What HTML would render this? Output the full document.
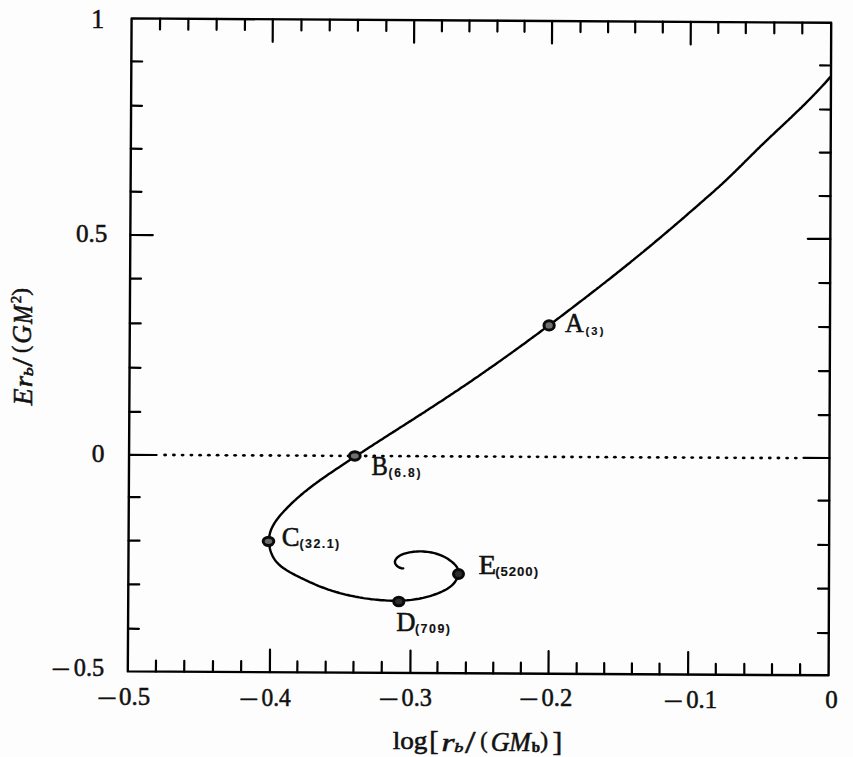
<!DOCTYPE html>
<html><head><meta charset="utf-8"><title>Binding energy plot</title>
<style>html,body{margin:0;padding:0;background:#fdfdfd;overflow:hidden;}svg{display:block;}</style>
</head><body>
<svg width="853" height="757" viewBox="0 0 853 757">
<rect width="853" height="757" fill="#fdfdfd"/>
<polygon points="131.6,18.4 831.2,22.8 828.6,675.3 127.8,671.4" fill="none" stroke="#000" stroke-width="2.40" stroke-linejoin="round"/>
<path d="M160.1,18.6L160.0,29.5 M188.4,18.8L188.3,29.7 M216.7,18.9L216.6,29.8 M245.0,19.1L244.9,30.0 M272.8,19.3L272.7,41.8 M301.5,19.5L301.4,30.4 M329.8,19.6L329.7,30.5 M358.0,19.8L357.9,30.7 M386.4,20.0L386.3,30.9 M414.2,20.2L414.1,42.7 M442.0,20.4L441.9,31.3 M469.5,20.5L469.4,31.4 M497.5,20.7L497.4,31.6 M524.6,20.9L524.5,31.8 M552.1,21.0L552.0,43.5 M580.6,21.2L580.5,32.1 M608.1,21.4L608.1,32.3 M635.2,21.6L635.2,32.5 M662.8,21.7L662.8,32.6 M690.8,21.9L690.7,44.4 M718.3,22.1L718.3,33.0 M745.8,22.3L745.8,33.2 M774.3,22.4L774.3,33.3 M802.3,22.6L802.3,33.5 M155.9,671.6L156.0,660.7 M184.2,671.7L184.3,660.8 M212.9,671.9L213.0,661.0 M241.1,672.0L241.2,661.1 M269.9,672.2L270.0,649.7 M297.3,672.3L297.4,661.4 M325.6,672.5L325.7,661.6 M353.4,672.7L353.5,661.8 M381.7,672.8L381.8,661.9 M410.4,673.0L410.5,650.5 M437.4,673.1L437.5,662.2 M465.8,673.3L465.9,662.4 M493.2,673.4L493.3,662.5 M520.8,673.6L520.9,662.7 M548.5,673.7L548.6,651.2 M576.6,673.9L576.7,663.0 M604.2,674.1L604.2,663.2 M631.9,674.2L631.9,663.3 M659.5,674.4L659.5,663.5 M688.1,674.5L688.2,652.0 M715.8,674.7L715.8,663.8 M744.3,674.8L744.3,663.9 M772.0,675.0L772.0,664.1 M800.1,675.1L800.1,664.2 M131.3,61.4L142.2,61.5 M131.1,105.7L142.0,105.8 M130.8,148.7L141.7,148.8 M130.6,191.7L141.5,191.8 M130.3,235.0L152.8,235.1 M130.1,278.6L141.0,278.7 M129.8,323.3L140.7,323.4 M129.6,367.7L140.5,367.8 M129.3,411.8L140.2,411.9 M129.1,454.8L156.6,455.0 M128.8,497.1L139.7,497.2 M128.6,540.6L139.5,540.7 M128.3,584.3L139.2,584.4 M128.0,628.7L138.9,628.8 M831.0,65.5L820.1,65.4 M830.9,109.6L820.0,109.5 M830.7,152.7L819.8,152.6 M830.5,196.1L819.6,196.0 M830.3,238.9L807.8,238.8 M830.2,283.1L819.3,283.0 M830.0,327.1L819.1,327.0 M829.8,371.2L818.9,371.1 M829.6,415.2L818.7,415.1 M829.5,458.0L803.5,457.8 M829.3,500.7L818.4,500.6 M829.1,545.0L818.2,544.9 M828.9,588.7L818.0,588.6 M828.8,633.1L817.9,633.0" stroke="#000" stroke-width="2.20" fill="none" stroke-linecap="round"/>
<g fill="#000"><ellipse cx="165.1" cy="455.0" rx="1.95" ry="1.4"/><ellipse cx="173.9" cy="455.0" rx="1.95" ry="1.4"/><ellipse cx="182.6" cy="455.1" rx="1.95" ry="1.4"/><ellipse cx="191.4" cy="455.1" rx="1.95" ry="1.4"/><ellipse cx="200.1" cy="455.2" rx="1.95" ry="1.4"/><ellipse cx="208.9" cy="455.2" rx="1.95" ry="1.4"/><ellipse cx="217.6" cy="455.2" rx="1.95" ry="1.4"/><ellipse cx="226.4" cy="455.3" rx="1.95" ry="1.4"/><ellipse cx="235.1" cy="455.3" rx="1.95" ry="1.4"/><ellipse cx="243.9" cy="455.4" rx="1.95" ry="1.4"/><ellipse cx="252.7" cy="455.4" rx="1.95" ry="1.4"/><ellipse cx="261.5" cy="455.5" rx="1.95" ry="1.4"/><ellipse cx="270.4" cy="455.5" rx="1.95" ry="1.4"/><ellipse cx="279.2" cy="455.6" rx="1.95" ry="1.4"/><ellipse cx="288.0" cy="455.6" rx="1.95" ry="1.4"/><ellipse cx="296.8" cy="455.6" rx="1.95" ry="1.4"/><ellipse cx="305.4" cy="455.7" rx="1.95" ry="1.4"/><ellipse cx="314.1" cy="455.7" rx="1.95" ry="1.4"/><ellipse cx="322.7" cy="455.8" rx="1.95" ry="1.4"/><ellipse cx="331.4" cy="455.8" rx="1.95" ry="1.4"/><ellipse cx="340.0" cy="455.9" rx="1.95" ry="1.4"/><ellipse cx="348.6" cy="455.9" rx="1.95" ry="1.4"/><ellipse cx="357.1" cy="455.9" rx="1.95" ry="1.4"/><ellipse cx="365.7" cy="456.0" rx="1.95" ry="1.4"/><ellipse cx="374.3" cy="456.0" rx="1.95" ry="1.4"/><ellipse cx="382.9" cy="456.1" rx="1.95" ry="1.4"/><ellipse cx="391.4" cy="456.1" rx="1.95" ry="1.4"/><ellipse cx="400.0" cy="456.2" rx="1.95" ry="1.4"/><ellipse cx="408.6" cy="456.2" rx="1.95" ry="1.4"/><ellipse cx="417.1" cy="456.2" rx="1.95" ry="1.4"/><ellipse cx="425.7" cy="456.3" rx="1.95" ry="1.4"/><ellipse cx="434.3" cy="456.3" rx="1.95" ry="1.4"/><ellipse cx="442.9" cy="456.4" rx="1.95" ry="1.4"/><ellipse cx="451.6" cy="456.4" rx="1.95" ry="1.4"/><ellipse cx="460.2" cy="456.5" rx="1.95" ry="1.4"/><ellipse cx="468.8" cy="456.5" rx="1.95" ry="1.4"/><ellipse cx="477.4" cy="456.5" rx="1.95" ry="1.4"/><ellipse cx="486.1" cy="456.6" rx="1.95" ry="1.4"/><ellipse cx="494.7" cy="456.6" rx="1.95" ry="1.4"/><ellipse cx="503.3" cy="456.7" rx="1.95" ry="1.4"/><ellipse cx="511.9" cy="456.7" rx="1.95" ry="1.4"/><ellipse cx="520.5" cy="456.8" rx="1.95" ry="1.4"/><ellipse cx="529.1" cy="456.8" rx="1.95" ry="1.4"/><ellipse cx="537.6" cy="456.8" rx="1.95" ry="1.4"/><ellipse cx="546.2" cy="456.9" rx="1.95" ry="1.4"/><ellipse cx="554.8" cy="456.9" rx="1.95" ry="1.4"/><ellipse cx="563.4" cy="457.0" rx="1.95" ry="1.4"/><ellipse cx="572.0" cy="457.0" rx="1.95" ry="1.4"/><ellipse cx="580.6" cy="457.1" rx="1.95" ry="1.4"/><ellipse cx="589.2" cy="457.1" rx="1.95" ry="1.4"/><ellipse cx="597.7" cy="457.1" rx="1.95" ry="1.4"/><ellipse cx="606.3" cy="457.2" rx="1.95" ry="1.4"/><ellipse cx="614.9" cy="457.2" rx="1.95" ry="1.4"/><ellipse cx="623.5" cy="457.3" rx="1.95" ry="1.4"/><ellipse cx="632.1" cy="457.3" rx="1.95" ry="1.4"/><ellipse cx="640.7" cy="457.4" rx="1.95" ry="1.4"/><ellipse cx="649.3" cy="457.4" rx="1.95" ry="1.4"/><ellipse cx="657.8" cy="457.4" rx="1.95" ry="1.4"/><ellipse cx="666.4" cy="457.5" rx="1.95" ry="1.4"/><ellipse cx="675.0" cy="457.5" rx="1.95" ry="1.4"/><ellipse cx="683.6" cy="457.6" rx="1.95" ry="1.4"/><ellipse cx="692.2" cy="457.6" rx="1.95" ry="1.4"/><ellipse cx="700.8" cy="457.7" rx="1.95" ry="1.4"/><ellipse cx="709.4" cy="457.7" rx="1.95" ry="1.4"/><ellipse cx="717.9" cy="457.7" rx="1.95" ry="1.4"/><ellipse cx="726.5" cy="457.8" rx="1.95" ry="1.4"/><ellipse cx="735.1" cy="457.8" rx="1.95" ry="1.4"/><ellipse cx="743.7" cy="457.9" rx="1.95" ry="1.4"/><ellipse cx="752.4" cy="457.9" rx="1.95" ry="1.4"/><ellipse cx="761.1" cy="458.0" rx="1.95" ry="1.4"/><ellipse cx="769.8" cy="458.0" rx="1.95" ry="1.4"/><ellipse cx="778.4" cy="458.0" rx="1.95" ry="1.4"/><ellipse cx="787.1" cy="458.1" rx="1.95" ry="1.4"/><ellipse cx="795.8" cy="458.1" rx="1.95" ry="1.4"/></g>
<path d="M830.2,77.0 L828.9,78.6 L827.6,80.1 L826.3,81.6 L825.0,83.1 L823.6,84.6 L822.3,86.0 L820.9,87.5 L819.5,89.0 L818.2,90.4 L816.8,91.9 L815.4,93.3 L814.0,94.8 L812.6,96.2 L811.2,97.7 L809.8,99.1 L808.4,100.5 L807.0,101.9 L805.6,103.3 L804.1,104.8 L802.7,106.2 L801.3,107.6 L799.8,109.0 L798.4,110.4 L797.0,111.7 L795.5,113.1 L794.1,114.5 L792.6,115.9 L791.2,117.3 L789.7,118.7 L788.3,120.1 L786.8,121.4 L785.3,122.8 L783.9,124.2 L782.4,125.6 L781.0,126.9 L779.5,128.3 L778.0,129.7 L776.6,131.0 L775.1,132.4 L773.7,133.8 L772.2,135.2 L770.7,136.5 L769.3,137.9 L767.8,139.3 L766.4,140.7 L764.9,142.1 L763.5,143.5 L762.0,144.9 L760.6,146.2 L759.2,147.6 L757.7,149.0 L756.3,150.4 L754.9,151.8 L753.4,153.3 L752.0,154.7 L750.6,156.1 L749.2,157.5 L747.8,158.9 L746.3,160.3 L744.9,161.7 L743.5,163.2 L742.1,164.6 L740.7,166.0 L739.2,167.4 L737.8,168.8 L736.4,170.2 L735.0,171.6 L733.5,173.0 L732.1,174.4 L730.6,175.8 L729.2,177.2 L727.7,178.6 L726.3,180.0 L724.8,181.3 L723.4,182.7 L721.9,184.1 L720.4,185.4 L718.9,186.8 L717.4,188.1 L715.9,189.4 L714.4,190.8 L713.0,192.1 L711.5,193.4 L710.0,194.8 L708.4,196.1 L706.9,197.4 L705.4,198.7 L703.9,200.1 L702.4,201.4 L700.9,202.7 L699.4,204.0 L697.9,205.3 L696.4,206.7 L694.9,208.0 L693.3,209.3 L691.8,210.6 L690.3,211.9 L688.8,213.2 L687.3,214.5 L685.8,215.8 L684.3,217.2 L682.7,218.5 L681.2,219.8 L679.7,221.1 L678.2,222.4 L676.7,223.7 L675.1,225.0 L673.6,226.3 L672.1,227.6 L670.6,228.9 L669.0,230.2 L667.5,231.5 L666.0,232.8 L664.4,234.1 L662.9,235.4 L661.4,236.7 L659.8,238.0 L658.3,239.3 L656.8,240.5 L655.2,241.8 L653.7,243.1 L652.2,244.4 L650.6,245.7 L649.1,247.0 L647.5,248.2 L646.0,249.5 L644.4,250.8 L642.9,252.1 L641.3,253.3 L639.8,254.6 L638.2,255.9 L636.7,257.1 L635.1,258.4 L633.6,259.7 L632.0,260.9 L630.5,262.2 L628.9,263.5 L627.3,264.7 L625.8,266.0 L624.2,267.2 L622.6,268.5 L621.1,269.7 L619.5,271.0 L617.9,272.2 L616.4,273.5 L614.8,274.7 L613.2,276.0 L611.7,277.2 L610.1,278.5 L608.5,279.7 L606.9,280.9 L605.4,282.2 L603.8,283.4 L602.2,284.6 L600.6,285.9 L599.1,287.1 L597.5,288.3 L595.9,289.6 L594.3,290.8 L592.7,292.0 L591.1,293.3 L589.5,294.5 L588.0,295.7 L586.4,296.9 L584.8,298.2 L583.2,299.4 L581.6,300.6 L580.0,301.8 L578.4,303.0 L576.8,304.3 L575.2,305.5 L573.6,306.7 L572.1,307.9 L570.5,309.1 L568.9,310.3 L567.3,311.5 L565.7,312.8 L564.1,314.0 L562.5,315.2 L560.9,316.4 L559.3,317.6 L557.7,318.8 L556.1,320.0 L554.5,321.2 L552.9,322.4 L551.3,323.6 L549.6,324.8 L548.0,326.0 L546.4,327.2 L544.8,328.4 L543.2,329.6 L541.6,330.8 L540.0,332.0 L538.4,333.2 L536.8,334.4 L535.2,335.6 L533.5,336.8 L531.9,337.9 L530.3,339.1 L528.7,340.3 L527.1,341.5 L525.5,342.7 L523.8,343.9 L522.2,345.0 L520.6,346.2 L519.0,347.4 L517.4,348.6 L515.7,349.8 L514.1,350.9 L512.5,352.1 L510.9,353.3 L509.2,354.4 L507.6,355.6 L506.0,356.8 L504.3,357.9 L502.7,359.1 L501.1,360.3 L499.4,361.4 L497.8,362.6 L496.2,363.7 L494.5,364.9 L492.9,366.0 L491.2,367.2 L489.6,368.3 L488.0,369.5 L486.3,370.6 L484.7,371.8 L483.0,372.9 L481.4,374.1 L479.7,375.2 L478.1,376.4 L476.4,377.5 L474.8,378.6 L473.1,379.8 L471.5,380.9 L469.8,382.0 L468.1,383.2 L466.5,384.3 L464.8,385.4 L463.2,386.5 L461.5,387.6 L459.8,388.8 L458.2,389.9 L456.5,391.0 L454.8,392.1 L453.2,393.2 L451.5,394.3 L449.8,395.4 L448.2,396.5 L446.5,397.6 L444.8,398.7 L443.1,399.9 L441.5,401.0 L439.8,402.0 L438.1,403.1 L436.4,404.2 L434.8,405.3 L433.1,406.4 L431.4,407.5 L429.7,408.6 L428.0,409.7 L426.3,410.8 L424.7,411.9 L423.0,413.0 L421.3,414.1 L419.6,415.1 L417.9,416.2 L416.2,417.3 L414.5,418.4 L412.9,419.5 L411.2,420.6 L409.5,421.6 L407.8,422.7 L406.1,423.8 L404.4,424.9 L402.7,426.0 L401.0,427.0 L399.4,428.1 L397.7,429.2 L396.0,430.3 L394.3,431.4 L392.6,432.4 L390.9,433.5 L389.2,434.6 L387.5,435.7 L385.8,436.8 L384.2,437.8 L382.5,438.9 L380.8,440.0 L379.1,441.1 L377.4,442.2 L375.7,443.3 L374.0,444.3 L372.4,445.4 L370.7,446.5 L369.0,447.6 L367.3,448.7 L365.6,449.8 L363.9,450.9 L362.3,452.0 L360.6,453.1 L358.9,454.2 L357.2,455.2 L355.5,456.3 L353.9,457.4 L352.2,458.5 L350.5,459.6 L348.8,460.7 L347.2,461.8 L345.5,462.9 L343.8,464.1 L342.1,465.2 L340.5,466.3 L338.8,467.4 L337.1,468.5 L335.5,469.6 L333.8,470.7 L332.1,471.9 L330.5,473.0 L328.8,474.1 L327.2,475.2 L325.5,476.4 L323.9,477.5 L322.2,478.7 L320.6,479.8 L319.0,481.0 L317.3,482.2 L315.7,483.4 L314.1,484.5 L312.5,485.8 L310.9,487.0 L309.3,488.2 L307.8,489.4 L306.2,490.7 L304.6,491.9 L303.1,493.2 L301.5,494.5 L300.0,495.8 L298.5,497.1 L297.0,498.4 L295.5,499.8 L294.0,501.1 L292.6,502.5 L291.1,503.9 L289.7,505.3 L288.3,506.7 L286.9,508.1 L285.5,509.6 L284.1,511.0 L282.8,512.5 L281.4,514.0 L280.1,515.6 L278.9,517.1 L277.6,518.7 L276.4,520.3 L275.3,521.9 L274.2,523.6 L273.2,525.4 L272.3,527.1 L271.4,529.0 L270.7,530.8 L270.1,532.7 L269.6,534.7 L269.3,536.7 L269.1,538.7 L269.0,540.7 L269.0,542.7 L269.2,544.7 L269.5,546.6 L269.9,548.6 L270.4,550.5 L271.0,552.4 L271.8,554.3 L272.6,556.1 L273.6,557.9 L274.7,559.6 L275.9,561.2 L277.2,562.7 L278.6,564.1 L280.1,565.5 L281.6,566.8 L283.2,568.0 L284.9,569.1 L286.6,570.2 L288.3,571.2 L290.0,572.2 L291.8,573.2 L293.5,574.1 L295.3,575.1 L297.1,576.0 L298.9,576.9 L300.7,577.8 L302.5,578.6 L304.3,579.5 L306.1,580.4 L307.9,581.2 L309.7,582.1 L311.6,582.9 L313.4,583.7 L315.2,584.5 L317.1,585.3 L318.9,586.1 L320.8,586.8 L322.7,587.5 L324.5,588.2 L326.4,588.9 L328.3,589.6 L330.2,590.2 L332.1,590.8 L334.0,591.4 L336.0,592.0 L337.9,592.5 L339.8,593.1 L341.8,593.6 L343.7,594.1 L345.6,594.6 L347.6,595.0 L349.6,595.5 L351.5,595.9 L353.5,596.3 L355.4,596.7 L357.4,597.0 L359.4,597.4 L361.4,597.7 L363.3,598.1 L365.3,598.4 L367.3,598.6 L369.3,598.9 L371.3,599.2 L373.3,599.4 L375.3,599.6 L377.3,599.8 L379.3,600.0 L381.3,600.2 L383.3,600.3 L385.3,600.4 L387.3,600.6 L389.3,600.6 L391.3,600.7 L393.3,600.7 L395.3,600.8 L397.3,600.8 L399.3,600.7 L401.3,600.7 L403.3,600.6 L405.3,600.4 L407.3,600.3 L409.3,600.1 L411.3,599.9 L413.3,599.6 L415.2,599.3 L417.2,599.0 L419.2,598.7 L421.2,598.3 L423.1,597.9 L425.1,597.4 L427.0,596.9 L428.9,596.4 L430.9,595.8 L432.8,595.2 L434.7,594.5 L436.6,593.8 L438.4,593.1 L440.3,592.3 L442.1,591.5 L443.9,590.6 L445.7,589.7 L447.4,588.7 L449.1,587.6 L450.7,586.4 L452.2,585.1 L453.6,583.6 L454.9,582.1 L456.0,580.4 L456.9,578.6 L457.7,576.8 L458.2,574.8 L458.4,572.9 L458.3,570.9 L457.8,568.9 L456.9,567.1 L455.7,565.5 L454.3,564.0 L452.9,562.7 L451.3,561.4 L449.7,560.2 L448.1,559.0 L446.4,558.0 L444.6,557.0 L442.8,556.2 L441.0,555.4 L439.1,554.6 L437.2,554.0 L435.3,553.4 L433.3,552.9 L431.4,552.5 L429.4,552.1 L427.4,551.9 L425.4,551.7 L423.4,551.5 L421.4,551.4 L419.4,551.4 L417.4,551.5 L415.4,551.6 L413.4,551.8 L411.4,552.1 L409.4,552.4 L407.5,552.8 L405.5,553.3 L403.6,553.9 L401.8,554.6 L400.0,555.5 L398.3,556.7 L396.8,558.0 L395.6,559.6 L394.9,561.5 L395.1,563.4 L396.2,565.1 L397.6,566.5 L399.3,567.5 L401.2,568.2 L403.2,568.4" stroke="#000" stroke-width="2.40" fill="none" stroke-linecap="round" stroke-linejoin="round"/>
<ellipse cx="549.1" cy="325.4" rx="5.15" ry="4.70" fill="#6e6e6e" stroke="#0a0a0a" stroke-width="3"/>
<ellipse cx="354.8" cy="455.9" rx="5.40" ry="4.25" fill="#707070" stroke="#0a0a0a" stroke-width="3"/>
<ellipse cx="268.5" cy="541.3" rx="5.30" ry="4.10" fill="#6a6a6a" stroke="#0a0a0a" stroke-width="3"/>
<ellipse cx="398.8" cy="601.5" rx="5.10" ry="4.20" fill="#2e2e2e" stroke="#0a0a0a" stroke-width="3"/>
<ellipse cx="458.5" cy="574.0" rx="5.00" ry="4.50" fill="#2e2e2e" stroke="#0a0a0a" stroke-width="3"/>
<g fill="#111" stroke="#111" stroke-width="0.55"><text transform="translate(91.34,27.50) scale(0.963,1)" font-family="Liberation Serif, serif" font-size="26.82">1</text><text transform="translate(75.96,242.02) scale(0.983,1)" font-family="Liberation Serif, serif" font-size="25.59">0.5</text><text transform="translate(91.85,461.65) scale(1.015,1)" font-family="Liberation Serif, serif" font-size="25.04">0</text><text transform="translate(51.60,677.60) scale(1.307,1)" font-family="Liberation Serif, serif" font-size="26.00">&#8722;</text><text transform="translate(73.79,675.62) scale(0.961,1)" font-family="Liberation Serif, serif" font-size="25.29">0.5</text><text transform="translate(97.13,707.44) scale(1.365,1)" font-family="Liberation Serif, serif" font-size="26.00">&#8722;</text><text transform="translate(119.07,705.31) scale(0.962,1)" font-family="Liberation Serif, serif" font-size="25.88">0.5</text><text transform="translate(239.16,707.60) scale(1.340,1)" font-family="Liberation Serif, serif" font-size="26.00">&#8722;</text><text transform="translate(261.52,705.61) scale(0.907,1)" font-family="Liberation Serif, serif" font-size="25.88">0.4</text><text transform="translate(378.79,708.19) scale(1.390,1)" font-family="Liberation Serif, serif" font-size="26.00">&#8722;</text><text transform="translate(401.49,706.31) scale(0.939,1)" font-family="Liberation Serif, serif" font-size="25.88">0.3</text><text transform="translate(519.26,708.30) scale(1.340,1)" font-family="Liberation Serif, serif" font-size="26.00">&#8722;</text><text transform="translate(541.48,706.31) scale(0.951,1)" font-family="Liberation Serif, serif" font-size="25.88">0.2</text><text transform="translate(663.86,709.75) scale(1.340,1)" font-family="Liberation Serif, serif" font-size="26.00">&#8722;</text><text transform="translate(686.17,707.71) scale(0.955,1)" font-family="Liberation Serif, serif" font-size="25.88">0.1</text><text transform="translate(825.36,707.65) scale(0.985,1)" font-family="Liberation Serif, serif" font-size="25.33">0</text><text transform="translate(392.66,749.03) scale(1.111,1)" font-family="Liberation Serif, serif" font-size="24.51">log</text><text transform="translate(429.21,749.99) scale(1.014,1)" font-family="Liberation Serif, serif" font-size="27.47">[</text><text transform="translate(441.56,750.90) scale(1.300,1)" font-family="Liberation Serif, serif" font-size="25.74" font-style="italic">r</text><text transform="translate(454.32,752.47) scale(1.400,1)" font-family="Liberation Serif, serif" font-size="13.05" font-style="italic">b</text><text transform="translate(464.90,752.89) scale(1.207,1)" font-family="Liberation Serif, serif" font-size="31.34">/</text><text transform="translate(480.31,748.13) scale(0.979,1)" font-family="Liberation Serif, serif" font-size="22.43">(</text><text transform="translate(490.66,751.10) scale(0.981,1)" font-family="Liberation Serif, serif" font-size="26.72" font-style="italic">G</text><text transform="translate(509.32,750.80) scale(0.973,1)" font-family="Liberation Serif, serif" font-size="26.56" font-style="italic">M</text><text transform="translate(531.81,752.05) scale(1.022,1)" font-family="Liberation Serif, serif" font-size="14.61" font-weight="bold">b</text><text transform="translate(540.13,748.15) scale(1.016,1)" font-family="Liberation Serif, serif" font-size="23.31">)</text><text transform="translate(552.47,750.84) scale(1.082,1)" font-family="Liberation Serif, serif" font-size="27.11">]</text><text transform="translate(31.80,405.60) rotate(-90) translate(0.34,0.00) scale(0.973,1)" font-family="Liberation Serif, serif" font-size="28.24" font-style="italic">E</text><text transform="translate(31.80,405.60) rotate(-90) translate(18.24,-0.00) scale(1.133,1)" font-family="Liberation Serif, serif" font-size="25.53" font-style="italic">r</text><text transform="translate(31.80,405.60) rotate(-90) translate(29.42,0.78) scale(1.445,1)" font-family="Liberation Serif, serif" font-size="12.48" font-style="italic">b</text><text transform="translate(31.80,405.60) rotate(-90) translate(38.80,0.60) scale(1.106,1)" font-family="Liberation Serif, serif" font-size="30.30">/</text><text transform="translate(31.80,405.60) rotate(-90) translate(52.63,-3.39) scale(0.957,1)" font-family="Liberation Serif, serif" font-size="22.54">(</text><text transform="translate(31.80,405.60) rotate(-90) translate(61.78,-0.40) scale(0.958,1)" font-family="Liberation Serif, serif" font-size="26.87" font-style="italic">G</text><text transform="translate(31.80,405.60) rotate(-90) translate(81.48,-0.20) scale(0.856,1)" font-family="Liberation Serif, serif" font-size="26.26" font-style="italic">M</text><text transform="translate(31.80,405.60) rotate(-90) translate(102.23,-10.90) scale(1.046,1)" font-family="Liberation Serif, serif" font-size="14.34">2</text><text transform="translate(31.80,405.60) rotate(-90) translate(109.84,-3.43) scale(1.004,1)" font-family="Liberation Serif, serif" font-size="23.20">)</text><text transform="translate(565.04,332.20) scale(0.985,1)" font-family="Liberation Serif, serif" font-size="26.36">A</text><text transform="translate(585.44,335.09) scale(1.000,1)" font-family="Liberation Sans, sans-serif" font-size="11.15" font-weight="bold" letter-spacing="2.19" stroke-width="0.15">(3)</text><text transform="translate(371.56,474.93) scale(0.895,1)" font-family="Liberation Serif, serif" font-size="27.38">B</text><text transform="translate(388.40,477.41) scale(1.000,1)" font-family="Liberation Sans, sans-serif" font-size="12.01" font-weight="bold" letter-spacing="1.85" stroke-width="0.15">(6.8)</text><text transform="translate(281.63,546.12) scale(0.971,1)" font-family="Liberation Serif, serif" font-size="27.51">C</text><text transform="translate(299.48,548.02) scale(1.000,1)" font-family="Liberation Sans, sans-serif" font-size="12.44" font-weight="bold" letter-spacing="1.45" stroke-width="0.15">(32.1)</text><text transform="translate(396.30,631.03) scale(0.980,1)" font-family="Liberation Serif, serif" font-size="27.22">D</text><text transform="translate(414.98,632.72) scale(1.000,1)" font-family="Liberation Sans, sans-serif" font-size="12.44" font-weight="bold" letter-spacing="1.50" stroke-width="0.15">(709)</text><text transform="translate(478.43,573.80) scale(1.074,1)" font-family="Liberation Serif, serif" font-size="26.87">E</text><text transform="translate(495.14,576.26) scale(1.000,1)" font-family="Liberation Sans, sans-serif" font-size="13.19" font-weight="bold" letter-spacing="0.96" stroke-width="0.15">(5200)</text></g>
</svg>
</body></html>
